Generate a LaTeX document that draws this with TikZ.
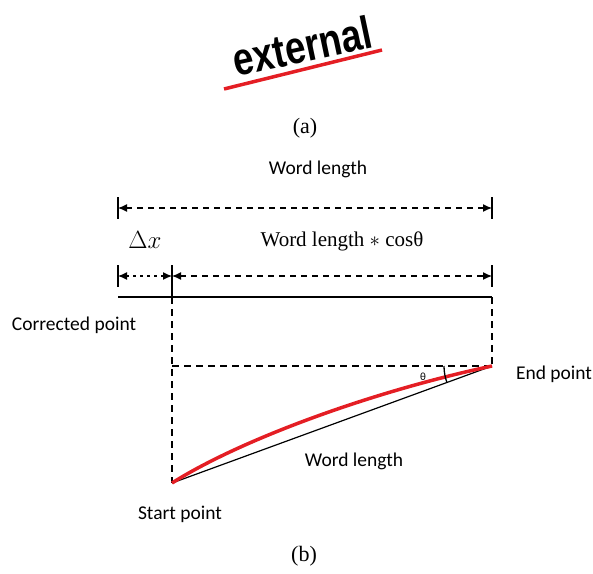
\documentclass[tikz,border=0pt]{standalone}
\usepackage{fontspec}
\setmainfont{Liberation Serif}
\newfontfamily\lblfont{Carlito}
\newfontfamily\extfont{Liberation Sans}
\usetikzlibrary{arrows.meta}
\definecolor{redline}{RGB}{228,30,36}
\begin{document}
\begin{tikzpicture}[x=1pt,y=-1pt,
 lbl/.style={font=\lblfont\fontsize{19.5}{22}\selectfont, inner sep=0pt},
 captxt/.style={font=\fontsize{22}{24}\selectfont, inner sep=0pt},
 dimarrow/.style={dash pattern=on 6pt off 5pt, line width=1.2pt, {Latex[length=9pt,width=8pt]}-{Latex[length=9pt,width=8pt]}},
 dotarrow/.style={dash pattern=on 3pt off 4pt, line width=1.2pt, {Latex[length=9pt,width=8pt]}-{Latex[length=9pt,width=8pt]}},
 tickline/.style={line width=1.3pt},
 guide/.style={dash pattern=on 7pt off 5pt, line width=1.2pt},
]
\useasboundingbox (0,0) rectangle (593,573);
% (a)
\node[rotate=12, inner sep=0pt, font=\extfont\bfseries\fontsize{46}{46}\selectfont] (ext) at (302,46) {\scalebox{0.8}[1]{external}};
\coordinate (u1) at (224,89);
\coordinate (u2) at (382,50);
\draw[redline, line width=3.5pt] (u1) -- (u2);
\node[captxt] (capa) at (305,128) {(a)};
% (b)
\node[lbl] (wl1) at (318,169) {Word length};
\coordinate (a1) at (118,208);
\coordinate (a2) at (492,208);
\draw[tickline] (118,197) -- (118,219);
\draw[tickline] (492,197) -- (492,219);
\draw[dimarrow] (a1) -- (a2);
\node[font=\fontsize{27}{28}\selectfont, inner sep=0pt] (dx) at (145,240) {$\Delta x$};
\node[font=\fontsize{21}{24}\selectfont, inner sep=0pt] (wlc) at (342,241) {Word length $*$ cosθ};
\coordinate (b1) at (118,276);
\coordinate (b2) at (172,276);
\coordinate (b3) at (492,276);
\draw[tickline] (118,265) -- (118,287);
\draw[tickline] (172,265) -- (172,297);
\draw[tickline] (492,265) -- (492,287);
\draw[dotarrow] (b1) -- (b2);
\draw[dimarrow] (b2) -- (b3);
\coordinate (L0) at (118,297);
\coordinate (T1) at (172,297);
\coordinate (T2) at (492,297);
\coordinate (S) at (172,483);
\coordinate (E) at (492,366);
\coordinate (C) at (172,366);
\draw[tickline] (L0) -- (T2);
\draw[guide] (T1) -- (S);
\draw[guide] (T2) -- (E);
\draw[guide] (C) -- (E);
\draw[line width=1.2pt] (S) -- (E);
\draw[redline, line width=3.5pt] (S) .. controls (240,440) and (370,392) .. (E);
\draw[line width=1.3pt] (E) ++(180:48) arc[start angle=180, end angle=160, radius=48];
\node[font=\lblfont\fontsize{11}{11}\selectfont, inner sep=0pt] (th) at (423,377) {θ};
\node[lbl] (cp) at (74,325) {Corrected point};
\node[lbl] (ep) at (554,374) {End point};
\node[lbl] (wl2) at (354,461) {Word length};
\node[lbl] (sp) at (180,514) {Start point};
\node[captxt] (capb) at (304,556) {(b)};
\end{tikzpicture}
\end{document}
